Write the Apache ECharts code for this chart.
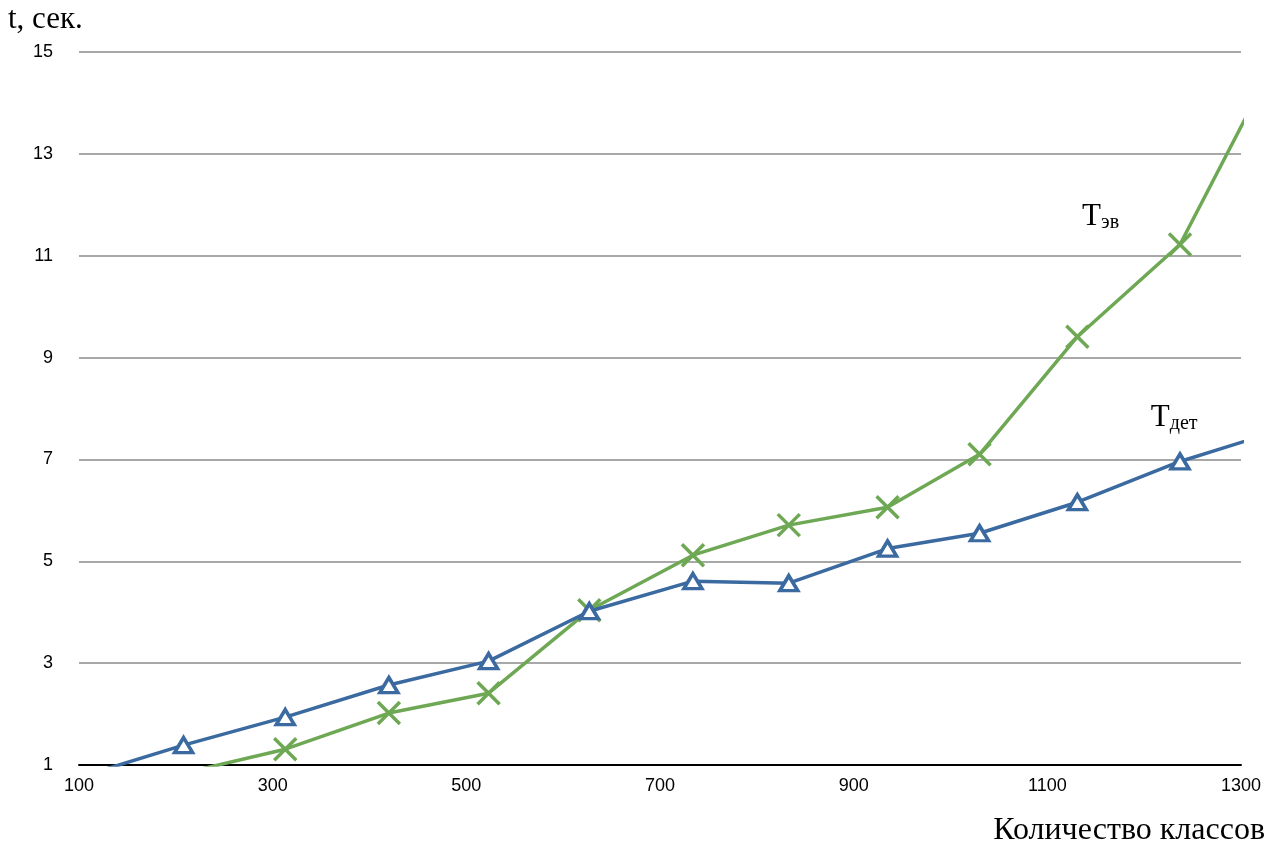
<!DOCTYPE html>
<html>
<head>
<meta charset="utf-8">
<script src="https://cdn.jsdelivr.net/npm/echarts@6/dist/echarts.min.js"></script>
<style>html,body{margin:0;padding:0;background:#fff;}#c{width:1272px;height:847px;}</style>
</head>
<body>
<div id="c"></div>
<script>
// Data
var xDet = [100, 208, 313, 420, 523, 627, 734, 833, 935, 1030, 1131, 1237, 1340];
var tDet = [0.76, 1.39, 1.94, 2.57, 3.04, 4.02, 4.61, 4.57, 5.25, 5.55, 6.16, 6.96, 7.57];
var xEv = [208, 313, 420, 523, 627, 734, 833, 935, 1030, 1131, 1237, 1340];
var tEv = [0.84, 1.31, 2.02, 2.41, 4.04, 5.12, 5.71, 6.06, 7.10, 9.41, 11.22, 15.0];
var yTitle = 't, сек.';
var xTitle = 'Количество классов';
var labelEv = {main: 'T', sub: 'эв', x: 1155, y: 11.45};
var labelDet = {main: 'T', sub: 'дет', x: 1231, y: 7.51};

function pairs(xs, ys){ return xs.map(function(x,i){ return [x, ys[i]]; }); }

var blue = '#3b6aa0', green = '#6ea854';
var chart = echarts.init(document.getElementById('c'), null, {renderer: 'canvas'});
var option = {
  animation: false,
  backgroundColor: '#fff',
  grid: {left: 79, right: 31, top: 52, bottom: 82, containLabel: false},
  xAxis: {
    type: 'value', min: 100, max: 1300, interval: 200,
    axisLine: {show: true, onZero: false, lineStyle: {color: '#000', width: 2}},
    axisTick: {show: false},
    splitLine: {show: false},
    axisLabel: {color: '#000', fontFamily: 'Liberation Sans', fontSize: 18, margin: 12,
      formatter: function(v){ return String(v); }}
  },
  yAxis: {
    type: 'value', min: 1, max: 15, interval: 2,
    axisLine: {show: false},
    axisTick: {show: false},
    splitLine: {show: true, lineStyle: {color: '#a8a8a8', width: 2}},
    axisLabel: {color: '#000', fontFamily: 'Liberation Sans', fontSize: 18, margin: 26,
      formatter: function(v){ return String(v); }}
  },
  series: [
    {
      type: 'line', name: 'det', data: pairs(xDet, tDet),
      lineStyle: {color: blue, width: 3.5},
      symbol: 'triangle', symbolSize: [18, 15],
      itemStyle: {color: '#fff', borderColor: blue, borderWidth: 3.5},
      showAllSymbol: true, clip: true, z: 3
    },
    {
      type: 'line', name: 'ev', data: pairs(xEv, tEv),
      lineStyle: {color: green, width: 3.5},
      symbol: 'path://M0,0L10,10M10,0L0,10', symbolSize: 22,
      itemStyle: {color: 'none', borderColor: green, borderWidth: 3.5},
      showAllSymbol: true, clip: true, z: 2
    }
  ]
};
chart.setOption(option);

var pEv = chart.convertToPixel({gridIndex: 0}, [labelEv.x, labelEv.y]);
var pDet = chart.convertToPixel({gridIndex: 0}, [labelDet.x, labelDet.y]);
var rich = {
  m: {fontFamily: 'Liberation Serif', fontSize: 31, color: '#000'},
  s: {fontFamily: 'Liberation Serif', fontSize: 20, color: '#000', padding: [12, 0, 0, 0]}
};
chart.setOption({
  graphic: [
    {type: 'text', left: 8, top: 4, style: {text: yTitle, fontFamily: 'Liberation Serif', fontSize: 31, fill: '#000'}},
    {type: 'text', right: 7, bottom: 0, style: {text: xTitle, fontFamily: 'Liberation Serif', fontSize: 32, fill: '#000'}},
    {type: 'text', x: pEv[0], y: pEv[1], style: {text: '{m|' + labelEv.main + '}{s|' + labelEv.sub + '}', rich: rich, verticalAlign: 'bottom', align: 'center'}},
    {type: 'text', x: pDet[0], y: pDet[1], style: {text: '{m|' + labelDet.main + '}{s|' + labelDet.sub + '}', rich: rich, verticalAlign: 'bottom', align: 'center'}}
  ]
});
</script>
</body>
</html>
